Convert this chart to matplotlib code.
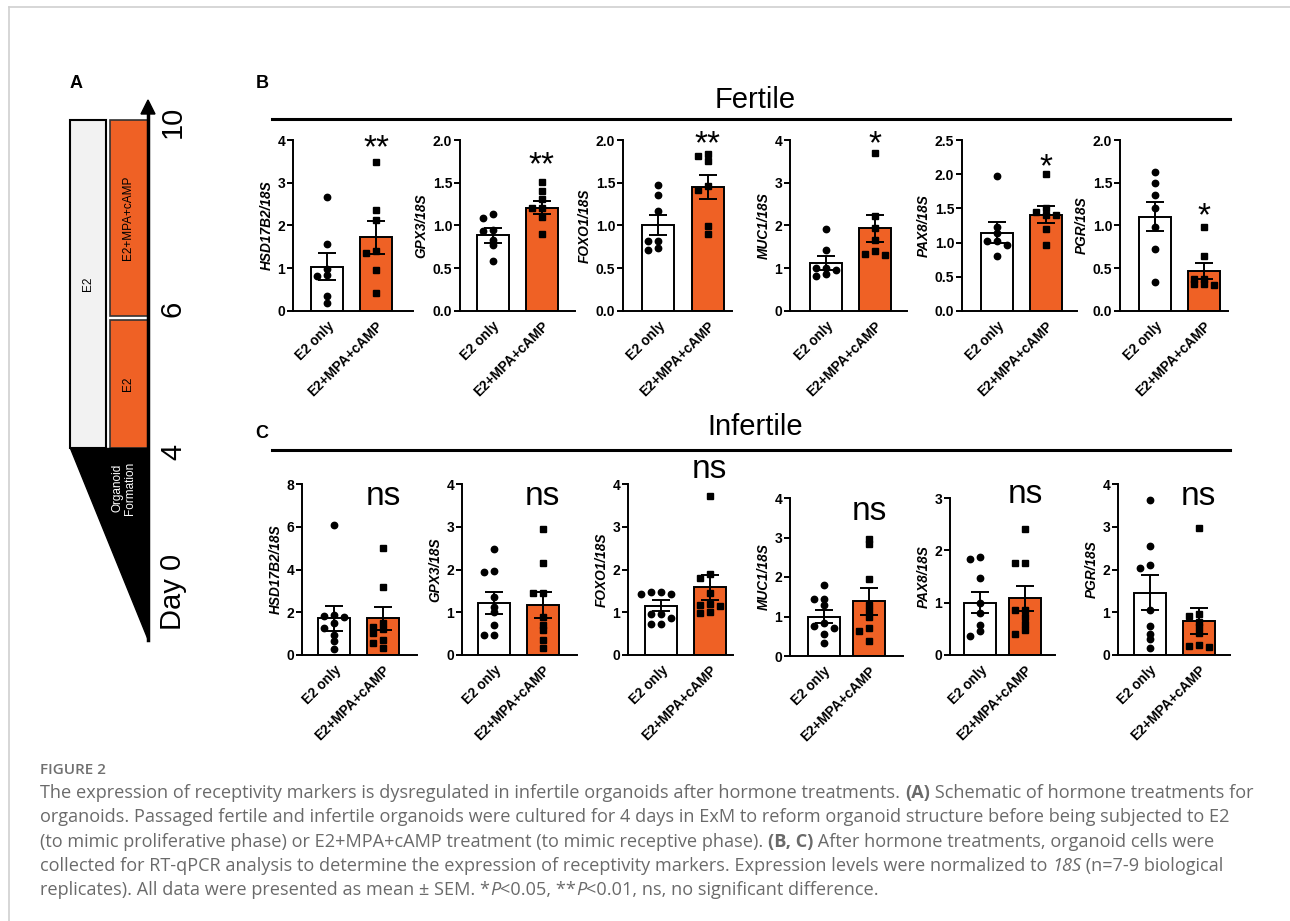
import numpy as np
import matplotlib
matplotlib.use("Agg")
import matplotlib.pyplot as plt
from matplotlib.patches import Rectangle, Polygon
from matplotlib.lines import Line2D
from matplotlib.font_manager import FontProperties

plt.rcParams['font.family'] = ['Liberation Sans', 'DejaVu Sans']

# ---------------- data ----------------
genes = ["HSD17B2", "GPX3", "FOXO1", "MUC1", "PAX8", "PGR"]
groups = ["E2 only", "E2+MPA+cAMP"]

# Fertile: bar means and SEM
fert_mean_e2 = [1.04, 0.885, 1.006, 1.13, 1.145, 1.10]
fert_sem_e2 = [0.315, 0.085, 0.12, 0.16, 0.15, 0.17]
fert_mean_mpa = [1.72, 1.21, 1.45, 1.93, 1.41, 0.47]
fert_sem_mpa = [0.39, 0.08, 0.145, 0.32, 0.12, 0.095]
fert_sig = ["**", "**", "**", "*", "*", "*"]
fert_ymax = [4, 2.0, 2.0, 4, 2.5, 2.0]
fert_ystep = [1, 0.5, 0.5, 1, 0.5, 0.5]

# Fertile individual points
fert_e2_HSD17B2 = [2.67, 1.57, 0.98, 0.83, 0.84, 0.35, 0.18]
fert_e2_GPX3 = [1.14, 1.09, 0.95, 0.94, 0.83, 0.77, 0.58]
fert_e2_FOXO1 = [1.47, 1.36, 1.17, 0.82, 0.82, 0.74, 0.71]
fert_e2_MUC1 = [1.91, 1.43, 1.00, 1.00, 0.95, 0.87, 0.82]
fert_e2_PAX8 = [1.97, 1.23, 1.14, 1.02, 1.02, 0.96, 0.81]
fert_e2_PGR = [1.63, 1.50, 1.36, 1.20, 0.98, 0.73, 0.34]
fert_mpa_HSD17B2 = [3.49, 2.36, 2.14, 1.40, 1.35, 0.96, 0.43]
fert_mpa_GPX3 = [1.51, 1.40, 1.31, 1.21, 1.21, 1.10, 0.90]
fert_mpa_FOXO1 = [1.84, 1.81, 1.76, 1.46, 1.41, 0.99, 0.90]
fert_mpa_MUC1 = [3.70, 2.22, 1.93, 1.65, 1.41, 1.33, 1.31]
fert_mpa_PAX8 = [2.00, 1.50, 1.45, 1.40, 1.40, 1.20, 0.97]
fert_mpa_PGR = [0.98, 0.64, 0.38, 0.37, 0.32, 0.31, 0.30]

# Infertile: bar means and SEM
inf_mean_e2 = [1.72, 1.22, 1.15, 1.00, 1.00, 1.46]
inf_sem_e2 = [0.58, 0.26, 0.13, 0.17, 0.195, 0.40]
inf_mean_mpa = [1.72, 1.17, 1.58, 1.38, 1.08, 0.80]
inf_sem_mpa = [0.53, 0.31, 0.30, 0.34, 0.24, 0.30]
inf_sig = ["ns", "ns", "ns", "ns", "ns", "ns"]
inf_ymax = [8, 4, 4, 4, 3, 4]
inf_ystep = [2, 1, 1, 1, 1, 1]

# Infertile individual points
inf_e2_HSD17B2 = [6.08, 1.85, 1.83, 1.80, 1.48, 1.25, 0.95, 0.67, 0.27]
inf_e2_GPX3 = [2.47, 1.97, 1.95, 1.36, 1.13, 1.00, 0.70, 0.47, 0.47]
inf_e2_FOXO1 = [1.48, 1.43, 1.43, 1.48, 0.96, 0.96, 0.86, 0.72, 0.72]
inf_e2_MUC1 = [1.80, 1.44, 1.44, 1.29, 0.83, 0.77, 0.72, 0.55, 0.32]
inf_e2_PAX8 = [1.84, 1.88, 1.47, 0.99, 0.81, 0.57, 0.45, 0.36]
inf_e2_PGR = [3.63, 2.55, 2.11, 2.04, 1.05, 0.68, 0.50, 0.37, 0.17]
inf_mpa_HSD17B2 = [5.02, 3.20, 1.51, 1.33, 1.20, 1.02, 0.70, 0.55, 0.31]
inf_mpa_GPX3 = [2.95, 2.16, 1.44, 1.44, 0.90, 0.70, 0.58, 0.35, 0.16]
inf_mpa_FOXO1 = [3.72, 1.89, 1.80, 1.45, 1.20, 1.18, 1.15, 1.00, 0.98]
inf_mpa_MUC1 = [2.96, 2.83, 1.95, 1.30, 1.15, 1.00, 0.70, 0.63, 0.38]
inf_mpa_PAX8 = [2.41, 1.75, 1.75, 0.86, 0.86, 0.72, 0.59, 0.47, 0.41]
inf_mpa_PGR = [2.96, 0.96, 0.91, 0.78, 0.65, 0.52, 0.23, 0.22, 0.18]

fert_pts_e2 = [fert_e2_HSD17B2, fert_e2_GPX3, fert_e2_FOXO1, fert_e2_MUC1, fert_e2_PAX8, fert_e2_PGR]
fert_pts_mpa = [fert_mpa_HSD17B2, fert_mpa_GPX3, fert_mpa_FOXO1, fert_mpa_MUC1, fert_mpa_PAX8, fert_mpa_PGR]
inf_pts_e2 = [inf_e2_HSD17B2, inf_e2_GPX3, inf_e2_FOXO1, inf_e2_MUC1, inf_e2_PAX8, inf_e2_PGR]
inf_pts_mpa = [inf_mpa_HSD17B2, inf_mpa_GPX3, inf_mpa_FOXO1, inf_mpa_MUC1, inf_mpa_PAX8, inf_mpa_PGR]

# ---------------- layout (pixels) ----------------
W, H = 1290, 921
ORANGE = "#EF6125"
fig = plt.figure(figsize=(W / 100, H / 100), dpi=100)
fig.patch.set_facecolor("white")


def fx(x):
    return x / W


def fy(y):
    return 1 - y / H


# (axis left, axis right, bar1 centre, bar2 centre, top, bottom)
fert_layout = [(293, 413, 327, 376, 140, 311), (460, 575, 492.5, 541.5, 140, 311),
               (623, 732, 658, 707.5, 140, 311), (790, 907, 826, 875, 140, 311),
               (962, 1077, 997.5, 1046, 140, 311), (1120, 1228, 1155, 1204, 140, 311)]
inf_layout = [(302, 417, 334, 383, 484, 655), (462, 577, 494, 542.5, 484, 655),
              (628, 733, 661, 709.5, 484, 655), (790, 903, 823.5, 869, 498, 656),
              (950, 1055, 980, 1025, 498, 655), (1118, 1230, 1149.5, 1198.5, 484, 655)]
fert_sig_pos = [0.95, 0.85, 0.97, 0.97, 0.84, 0.55]   # axes-fraction centre of asterisks
inf_sig_pos = [0.877, 0.877, 1.035, 0.861, 0.968, 0.877]  # axes-fraction baseline of "ns"


def swarm(vals, ppy, ppx, diam=5.0, step_px=10.0):
    vals = np.asarray(vals, float)
    placed = []
    res = np.zeros(len(vals))
    for i in np.argsort(-vals, kind="stable"):
        y = vals[i] * ppy
        for k in [0, -1, 1, -2, 2, -3, 3]:
            x = k * step_px
            if all((x - px) ** 2 + (y - py) ** 2 >= diam ** 2 for px, py in placed):
                break
        placed.append((x, y))
        res[i] = k * step_px / ppx
    return res


def panel(lay, gene, means, sems, pts_a, pts_b, ymax, ystep, sig, sig_pos, is_ns):
    left, right, c1, c2, top, bottom = lay
    ax = fig.add_axes([fx(left), fy(bottom), (right - left) / W, (bottom - top) / H])
    unit = c2 - c1
    ax.set_xlim((left - c1) / unit, (right - c1) / unit)
    ax.set_ylim(0, ymax)
    bw = 32 / unit
    ax.bar([0, 1], means, width=bw, color=["white", ORANGE], edgecolor="black",
           linewidth=1.4, zorder=2)
    ppy = (bottom - top) / ymax
    for xc, vals, mk, ms in [(0, pts_a, "o", 4.6), (1, pts_b, "s", 4.2)]:
        off = swarm(vals, ppy, unit)
        ax.plot(xc + off, vals, ls="none", marker=mk, ms=ms, color="black",
                mec="black", zorder=4, clip_on=False)
    ax.errorbar([0, 1], means, yerr=sems, fmt="none", ecolor="black", elinewidth=1.4,
                capsize=6.5, capthick=1.4, zorder=5)
    for s in ["top", "right"]:
        ax.spines[s].set_visible(False)
    for s in ["left", "bottom"]:
        ax.spines[s].set_linewidth(1.4)
    ticks = np.arange(0, ymax + 1e-9, ystep)
    ax.set_yticks(ticks)
    if ystep < 1:
        ax.set_yticklabels([f"{t:.1f}" for t in ticks])
    else:
        ax.set_yticklabels([f"{int(t)}" for t in ticks])
    ax.tick_params(axis="y", length=4.5, width=1.4, pad=1, labelsize=10)
    for lb in ax.get_yticklabels():
        lb.set_fontweight("bold")
    ax.set_xticks([0, 1])
    ax.set_xticklabels(groups, rotation=45, ha="right", rotation_mode="anchor",
                       fontsize=9.8, fontweight="bold")
    ax.tick_params(axis="x", length=0, pad=6)
    ax.set_ylabel(f"{gene}/18S", fontsize=9.8, fontweight="bold", fontstyle="italic",
                  labelpad=3)
    if is_ns:
        ax.text(1, sig_pos, sig, transform=ax.get_xaxis_transform(), ha="center",
                va="baseline", fontsize=24, clip_on=False)
    else:
        ax.text(1, sig_pos, sig, transform=ax.get_xaxis_transform(), ha="center",
                va="center", fontsize=24, clip_on=False)
    return ax


for i, g in enumerate(genes):
    panel(fert_layout[i], g, [fert_mean_e2[i], fert_mean_mpa[i]], [fert_sem_e2[i], fert_sem_mpa[i]],
          fert_pts_e2[i], fert_pts_mpa[i], fert_ymax[i], fert_ystep[i], fert_sig[i],
          fert_sig_pos[i], False)
    panel(inf_layout[i], g, [inf_mean_e2[i], inf_mean_mpa[i]], [inf_sem_e2[i], inf_sem_mpa[i]],
          inf_pts_e2[i], inf_pts_mpa[i], inf_ymax[i], inf_ystep[i], inf_sig[i],
          inf_sig_pos[i], True)

# ---------------- overlay: schematic, headers, frame ----------------
ov = fig.add_axes([0, 0, 1, 1], zorder=-1)
ov.set_xlim(0, W)
ov.set_ylim(H, 0)
ov.axis("off")

# frame
ov.add_line(Line2D([9, W], [7.5, 7.5], color="#d0d0d0", lw=1.2))
ov.add_line(Line2D([9, 9], [7.5, H], color="#d0d0d0", lw=1.2))

# panel letters
for lab, x, y in [("A", 76, 83), ("B", 262, 83), ("C", 262, 433)]:
    ov.text(x, y, lab, ha="center", va="center", fontsize=13, fontweight="bold")

# section headers
ov.text(755, 100, "Fertile", ha="center", va="center", fontsize=21)
ov.add_line(Line2D([272, 1230], [119, 119], color="black", lw=2.2))
ov.text(755, 427, "Infertile", ha="center", va="center", fontsize=21)
ov.add_line(Line2D([272, 1230], [450, 450], color="black", lw=2.2))

# schematic (panel A)
ov.add_patch(Rectangle((70, 120), 36, 328, fc="#f2f2f2", ec="black", lw=1.5))
ov.add_patch(Rectangle((109.5, 120), 38, 196, fc=ORANGE, ec="#333333", lw=1.2))
ov.add_patch(Rectangle((109.5, 320), 38, 128, fc=ORANGE, ec="#333333", lw=1.2))
ov.add_patch(Polygon([(70, 448), (148, 448), (148, 640)], closed=True, fc="black", ec="black"))
ov.add_line(Line2D([148, 148], [640, 112], color="black", lw=2.5))
ov.add_patch(Polygon([(141, 114), (155, 114), (148, 100)], closed=True, fc="black", ec="black"))
ov.text(88, 284, "E2", rotation=90, ha="center", va="center", fontsize=8.5)
ov.text(128, 218, "E2+MPA+cAMP", rotation=90, ha="center", va="center", fontsize=8.5)
ov.text(128, 384, "E2", rotation=90, ha="center", va="center", fontsize=8.5)
ov.text(124, 488, "Organoid\nFormation", rotation=90, ha="center", va="center",
        fontsize=8.5, color="white", linespacing=1.0)
for lab, y in [("10", 122), ("6", 309), ("4", 452), ("Day 0", 592)]:
    ov.text(173, y, lab, rotation=90, ha="center", va="center", fontsize=21)

# ---------------- caption ----------------
renderer = fig.canvas.get_renderer()
CAP_FONT = ['Open Sans', 'DejaVu Sans']
CAP_SIZE = 13.1
CAP_COLOR = "#6a6a6a"


def seg_width(s, weight, style):
    fp = FontProperties(family=CAP_FONT, size=CAP_SIZE, weight=weight, style=style)
    w1, _, _ = renderer.get_text_width_height_descent(s + "|", fp, ismath=False)
    w2, _, _ = renderer.get_text_width_height_descent("|", fp, ismath=False)
    return w1 - w2


def rich_line(x, y, segs):
    for s, weight, style in segs:
        ov.text(x, y, s, ha="left", va="baseline", fontsize=CAP_SIZE, family=CAP_FONT,
                fontweight=weight, fontstyle=style, color=CAP_COLOR)
        x += seg_width(s, weight, style)


ov.text(40, 774, "FIGURE 2", ha="left", va="baseline", fontsize=11, family=CAP_FONT,
        fontweight="semibold", color="#707070")
N, B, I = ("normal", "normal"), ("bold", "normal"), ("normal", "italic")
lines = [
    [("The expression of receptivity markers is dysregulated in infertile organoids after hormone treatments. ",) + N,
     ("(A)",) + B, (" Schematic of hormone treatments for",) + N],
    [("organoids. Passaged fertile and infertile organoids were cultured for 4 days in ExM to reform organoid structure before being subjected to E2",) + N],
    [("(to mimic proliferative phase) or E2+MPA+cAMP treatment (to mimic receptive phase). ",) + N,
     ("(B, C)",) + B, (" After hormone treatments, organoid cells were",) + N],
    [("collected for RT-qPCR analysis to determine the expression of receptivity markers. Expression levels were normalized to ",) + N,
     ("18S",) + I, (" (n=7-9 biological",) + N],
    [("replicates). All data were presented as mean \u00b1 SEM. *",) + N, ("P",) + I,
     ("<0.05, **",) + N, ("P",) + I, ("<0.01, ns, no significant difference.",) + N],
]
for k, segs in enumerate(lines):
    rich_line(40, 798 + 24.3 * k, segs)

fig.savefig("out.png", dpi=100, facecolor="white")
